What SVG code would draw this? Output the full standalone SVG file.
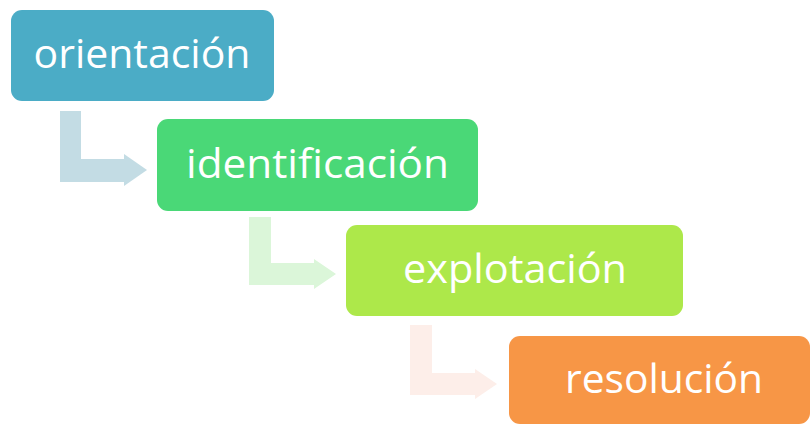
<svg xmlns="http://www.w3.org/2000/svg" width="811" height="426" viewBox="0 0 811 426">
  <style>
    .lbl { font-family: "Open Sans", "Liberation Sans", sans-serif; font-size: 40px; fill: #ffffff; text-anchor: middle; }
  </style>
  <rect width="811" height="426" fill="#ffffff"/>
  <g id="connectors">
    <path d="M60,111 H81 V159 H124 V154 L147,170 L124,186 V182 H60 Z" fill="#C3DCE4"/>
    <path d="M249,217 H271 V263 H314 V259 L336,274 L314,289 V285 H249 Z" fill="#DBF6D9"/>
    <path d="M410,325 H432 V373 H475 V369 L497,384 L475,399 V395 H410 Z" fill="#FDEEE9"/>
  </g>
  <g id="orientacion">
    <rect x="11" y="10" width="263" height="91" rx="11" fill="#4BACC6"/>
    <text class="lbl" x="142" y="68" textLength="217" lengthAdjust="spacingAndGlyphs">orientación</text>
  </g>
  <g id="identificacion">
    <rect x="157" y="119" width="321" height="92" rx="11" fill="#4AD877"/>
    <text class="lbl" x="317.5" y="177.5" textLength="263" lengthAdjust="spacingAndGlyphs">identificación</text>
  </g>
  <g id="explotacion">
    <rect x="346" y="225" width="337" height="91" rx="11" fill="#ADE84A"/>
    <text class="lbl" x="515" y="283" textLength="224" lengthAdjust="spacingAndGlyphs">explotación</text>
  </g>
  <g id="resolucion">
    <rect x="509" y="336" width="301" height="88" rx="11" fill="#F79646"/>
    <text class="lbl" x="664" y="393" textLength="198" lengthAdjust="spacingAndGlyphs">resolución</text>
  </g>
</svg>
